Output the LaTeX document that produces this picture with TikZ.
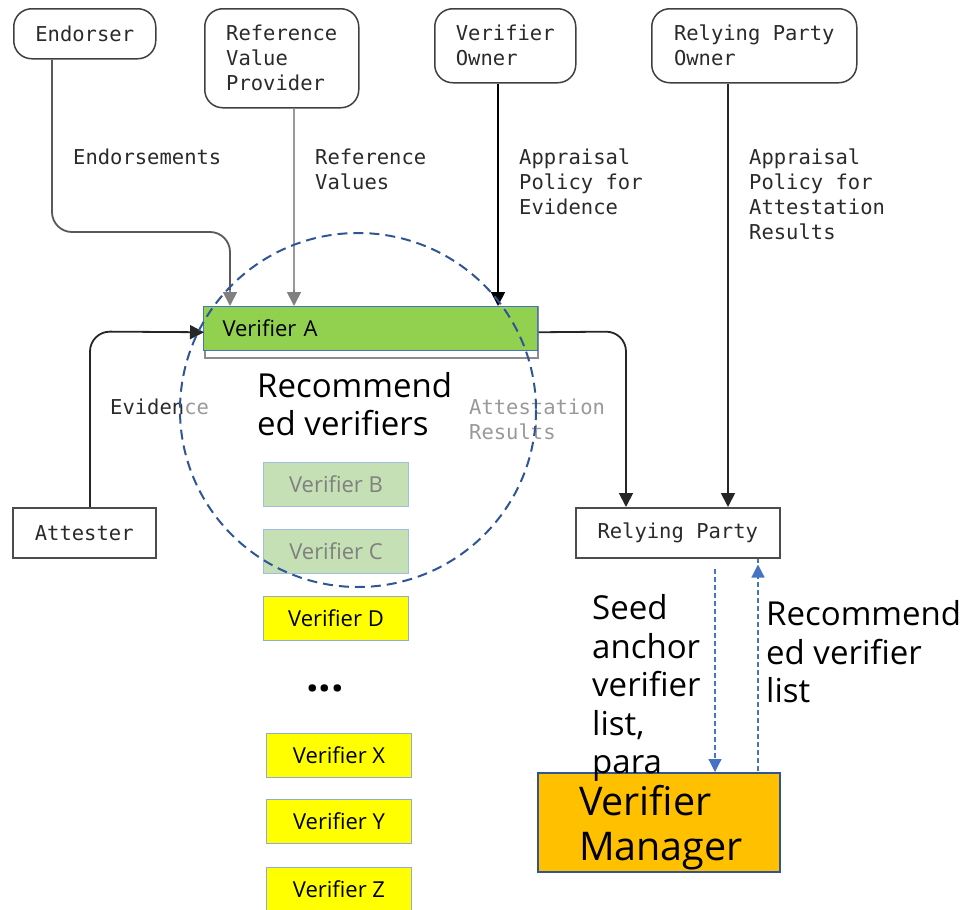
\documentclass[tikz,border=0pt]{standalone}
\usepackage{fontspec}
\setmainfont{Open Sans}
\newfontfamily\monofont{DejaVu Sans Mono}
\usetikzlibrary{arrows.meta}
\definecolor{vgreen}{HTML}{92D050}
\definecolor{lgreen}{HTML}{C5E0B4}
\definecolor{vyellow}{HTML}{FFFF00}
\definecolor{vorange}{HTML}{FFC000}
\definecolor{dblue}{HTML}{2F5597}
\definecolor{mblue}{HTML}{4472C4}
\definecolor{lblue}{HTML}{8FAADC}
\definecolor{txtgray}{HTML}{2A2A2A}
\tikzset{
  owner/.style={draw=black!75, line width=1.5pt, rounded corners=18pt, font=\monofont\fontsize{20.5}{25}\selectfont, text=txtgray, align=left, anchor=north west, inner sep=0pt},
  plainbox/.style={draw=black!70, line width=1.5pt, font=\monofont\fontsize{20.5}{25}\selectfont, text=txtgray, anchor=north west, inner sep=0pt},
  lbl/.style={font=\monofont\fontsize{20.5}{25}\selectfont, text=txtgray, align=left, anchor=west, inner sep=0pt},
  vbox/.style={draw=lblue, line width=1pt, minimum width=145pt, minimum height=44pt, anchor=north west, font=\fontsize{22}{26}\selectfont, inner sep=0pt},
  big/.style={font=\fontsize{33}{38.5}\selectfont, align=left, anchor=west, inner sep=0pt},
  conn/.style={line width=1.8pt, rounded corners=20pt},
  tip/.style={-{Triangle[length=14pt,width=14pt]}},
  bluearrow/.style={mblue, line width=1.2pt, dash pattern=on 5pt off 3pt, -{Triangle[length=13pt,width=13pt]}}
}
\begin{document}
\begin{tikzpicture}[x=1pt,y=-1pt]
\clip (0,0) rectangle (969,910);
\useasboundingbox (0,0) rectangle (969,910);

% owners
\node[owner, minimum width=142pt, minimum height=50pt] (endorser) at (13,8) {Endorser};
\node[owner, minimum width=154pt, minimum height=99pt] (rvp) at (204,8) {Reference\\Value\\Provider};
\node[owner, minimum width=141pt, minimum height=74pt] (vo) at (434,8) {Verifier\\Owner};
\node[owner, minimum width=205pt, minimum height=74pt] (rpo) at (651,8) {Relying Party\\Owner};

% verifier A
\node[draw=black!45, line width=1.5pt, fill=white, minimum width=333pt, minimum height=51pt, anchor=north west, inner sep=0pt] (verA) at (204,306) {};
\node[draw=mblue, line width=1pt, fill=vgreen, minimum width=334pt, minimum height=44pt, anchor=north west, inner xsep=19pt, inner ysep=0pt, text width=296pt, align=left, font=\fontsize{22}{26}\selectfont] (verAg) at (203,306) {Verifier A};

% attester, relying party
\node[plainbox, minimum width=143pt, minimum height=50pt] (att) at (12,507) {Attester};
\node[plainbox, minimum width=204pt, minimum height=50pt] (rp) at (575,507) {Relying Party};

% connectors from owners
\coordinate (e1) at (52,232);
\coordinate (e2) at (230,232);
\draw[conn, draw=black!65] (endorser.south -| e1) -- (e1) -- (e2) -- (e2 |- 0,292);
\draw[tip, draw=black!65, color=black!50, line width=1.8pt] (e2 |- 0,290) -- (verA.north -| e2);
\coordinate (r1) at (294,0);
\draw[line width=1.8pt, draw=black!40] (rvp.south -| r1) -- (r1 |- 0,292);
\draw[tip, color=black!50, line width=1.8pt] (r1 |- 0,290) -- (verA.north -| r1);
\coordinate (v1) at (498,0);
\draw[tip, line width=1.8pt, black] (vo.south -| v1) -- (verA.north -| v1);
\coordinate (o1) at (728,0);
\draw[tip, line width=1.8pt, black!85] (rpo.south -| o1) -- (rp.north -| o1);

% evidence
\coordinate (a1) at (90,331.5);
\draw[conn, tip, black!85] (att.north -| a1) -- (a1) -- (verA.west);
% attestation results
\coordinate (t1) at (626,331.5);
\draw[conn, tip, black!85] (verA.east) -- (t1) -- (rp.north -| t1);

% labels
\node[lbl] (lEnd) at (73,157) {Endorsements};
\node[lbl] (lRef) at (315,169.5) {Reference\\Values};
\node[lbl] (lApE) at (519,182) {Appraisal\\Policy for\\Evidence};
\node[lbl] (lApR) at (749,194.5) {Appraisal\\Policy for\\Attestation\\Results};
\node[lbl] (lEv) at (110,407) {Eviden\textcolor{black!40}{ce}};
\node[lbl, text=black!40] (lAR) at (469,419.5) {Attestation\\Results};

% recommended verifiers
\node[big] (recv) at (257,404) {Recommend\\ed verifiers};
\node[vbox, fill=lgreen, draw=lblue!80, text=black!50] (vB) at (263,462) {Verifier B};
\node[vbox, fill=lgreen, draw=lblue!80, text=black!50] (vC) at (263,529) {Verifier C};
\node[vbox, fill=vyellow] (vD) at (263,596) {Verifier D};
\node[font=\fontsize{44}{48}\selectfont\bfseries, inner sep=0pt] (dots) at (325,688) {...};
\node[vbox, fill=vyellow] (vX) at (266,733) {Verifier X};
\node[vbox, fill=vyellow] (vY) at (266,799) {Verifier Y};
\node[vbox, fill=vyellow] (vZ) at (266,867) {Verifier Z};

% dashed circle
\draw[dblue, line width=2pt, dash pattern=on 10pt off 6pt] (358,410) ellipse [x radius=178, y radius=177];

% verifier manager
\node[draw=dblue, line width=2pt, fill=vorange, minimum width=242pt, minimum height=99pt, anchor=north west, inner sep=0pt] (vm) at (537,772) {};
\node[inner sep=0pt, text width=164pt, align=left, font=\fontsize{39.5}{45}\selectfont] (vmtext) at ([xshift=2pt,yshift=-5pt]vm.center) {Verifier\\Manager};
\coordinate (d1) at (715,569);
\coordinate (u1) at (758,771);
\draw[bluearrow] (d1) -- (vm.north -| d1);
\draw[bluearrow] (u1) -- (rp.south -| u1) ++(0,6);
\node[big] (seed) at (592,688) {Seed\\anchor\\verifier\\list,\\para};
\node[big] (recl) at (766,652) {Recommend\\ed verifier\\list};
\end{tikzpicture}
\end{document}
